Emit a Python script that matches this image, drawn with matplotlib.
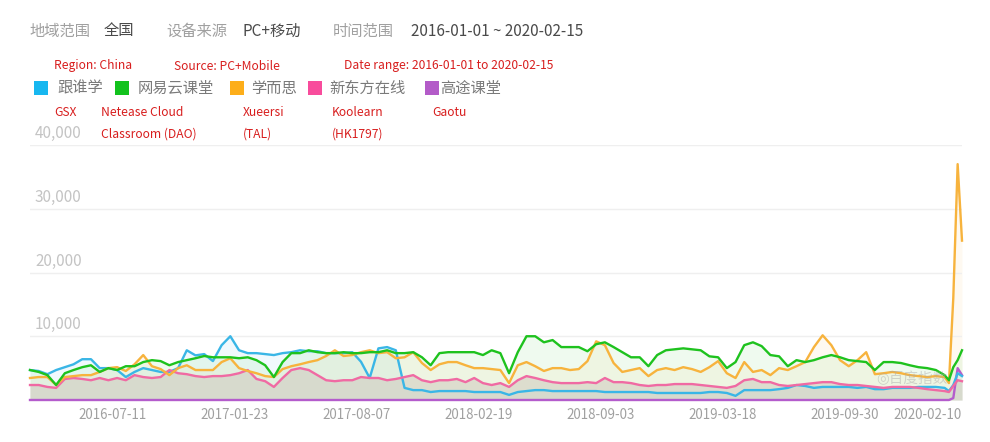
import matplotlib
matplotlib.use("Agg")
import matplotlib.pyplot as plt
from matplotlib.patches import Rectangle
import matplotlib.transforms as mtransforms

plt.rcParams['font.family'] = ['Noto Sans CJK SC', 'DejaVu Sans']

# ---------------- data ----------------
# x positions: week index (bi-weekly samples, weekly near the end)
weeks = list(range(0, 210, 2)) + [210, 211, 212, 213, 214]

tick_weeks = [19, 47, 75, 103, 131, 159, 187, 206]
tick_labels = ['2016-07-11', '2017-01-23', '2017-08-07', '2018-02-19',
               '2018-09-03', '2019-03-18', '2019-09-30', '2020-02-10']

series_names = ['跟谁学', '网易云课堂', '学而思', '新东方在线', '高途课堂']
series_en = ['GSX', 'Netease Cloud\nClassroom (DAO)', 'Xueersi\n(TAL)', 'Koolearn\n(HK1797)', 'Gaotu']

gsx = [4700, 4550, 4050, 4700, 5150, 5600, 6400, 6400, 5000, 5000,
       4700, 3600, 4400, 5000, 4700, 4400, 4400, 5000, 7800, 7000,
       7200, 6100, 8600, 10000, 7800, 7350, 7350, 7200, 7050, 7350,
       7500, 7800, 7650, 7650, 7350, 7350, 7350, 7500, 6000, 3450,
       8100, 8300, 7800, 1900, 1550, 1550, 1250, 1400, 1400, 1400,
       1400, 1250, 1250, 1250, 1250, 800, 1250, 1400, 1550, 1550,
       1400, 1400, 1400, 1400, 1400, 1400, 1250, 1250, 1250, 1250,
       1250, 1250, 1100, 1100, 1100, 1100, 1100, 1100, 1250, 1250,
       1100, 650, 1550, 1550, 1550, 1550, 1700, 1900, 2350, 2200,
       1900, 2050, 2050, 2050, 2050, 1900, 2050, 1700, 1700, 1900,
       1900, 1900, 2050, 2050, 2050, 1900, 1400, 2350, 4200, 3750]

netease = [4700, 4400, 3900, 2350, 4200, 4700, 5150, 5450, 4400, 5000,
           4700, 5300, 5300, 5950, 6250, 6100, 5450, 5950, 6250, 6550,
           6900, 6700, 6700, 6700, 6550, 6700, 6250, 5450, 3600, 5950,
           7350, 7350, 7800, 7500, 7350, 7350, 7500, 7350, 7350, 7500,
           7500, 7800, 7350, 7350, 7500, 6700, 5450, 7350, 7500, 7500,
           7500, 7500, 7050, 7800, 7350, 4200, 7500, 10000, 10000, 9050,
           9400, 8300, 8300, 8300, 7650, 8750, 9050, 8300, 7500, 6700,
           6700, 5300, 7050, 7800, 7950, 8100, 7950, 7800, 6850, 6700,
           5000, 5950, 8600, 9050, 8450, 7050, 6850, 5300, 6250, 5950,
           6250, 6700, 7050, 6700, 6250, 6100, 5950, 4700, 5950, 5950,
           5800, 5450, 5150, 5000, 4700, 3900, 3100, 5150, 6250, 7800]

xueersi = [3450, 3600, 3600, 2350, 3600, 3750, 3900, 3900, 4400, 5000,
           5150, 4550, 5600, 7050, 5300, 4850, 3900, 5000, 5450, 4700,
           4700, 4700, 5950, 6550, 5000, 4550, 4200, 3750, 3600, 4850,
           5300, 5600, 5950, 6250, 6900, 7800, 6900, 7050, 7500, 7800,
           7350, 7500, 6550, 6700, 7500, 5800, 4700, 5600, 5950, 5950,
           5450, 5000, 5000, 4850, 4700, 2650, 5450, 5950, 5300, 4550,
           5000, 5000, 4700, 4850, 6100, 9200, 8600, 5800, 4400, 4700,
           5000, 3750, 4700, 5000, 4700, 5150, 4850, 4400, 5150, 6100,
           4200, 3450, 5950, 4400, 4700, 3900, 5000, 4700, 5300, 5950,
           8300, 10150, 8600, 6250, 5300, 6250, 7500, 4050, 4200, 4400,
           4200, 3900, 3750, 3600, 3750, 3600, 2650, 16000, 37000, 25000]

koolearn = [2350, 2350, 2050, 1900, 3300, 3450, 3300, 3100, 3450, 3100,
            3450, 3100, 3900, 3600, 3450, 3600, 4700, 4200, 4050, 3750,
            3600, 3750, 3750, 3900, 4200, 4700, 3300, 2950, 2050, 3450,
            4700, 5000, 4700, 3900, 3100, 2950, 3100, 3100, 3600, 3450,
            3450, 3100, 3300, 3600, 3900, 3100, 2800, 3100, 3100, 3300,
            2800, 3450, 2650, 2350, 2650, 2050, 3100, 3750, 3450, 3100,
            2800, 2650, 2650, 2650, 2800, 2650, 3450, 2800, 2800, 2650,
            2350, 2200, 2350, 2350, 2500, 2500, 2500, 2350, 2200, 2050,
            1900, 2200, 3100, 3300, 2800, 2800, 2350, 2200, 2350, 2500,
            2650, 2800, 2800, 2500, 2350, 2350, 2200, 2050, 1900, 2050,
            2050, 2050, 1900, 1700, 1550, 1400, 1250, 2200, 3100, 2950]

gaotu = [0, 0, 0, 0, 0, 0, 0, 0, 0, 0,
         0, 0, 0, 0, 0, 0, 0, 0, 0, 0,
         0, 0, 0, 0, 0, 0, 0, 0, 0, 0,
         0, 0, 0, 0, 0, 0, 0, 0, 0, 0,
         0, 0, 0, 0, 0, 0, 0, 0, 0, 0,
         0, 0, 0, 0, 0, 0, 0, 0, 0, 0,
         0, 0, 0, 0, 0, 0, 0, 0, 0, 0,
         0, 0, 0, 0, 0, 0, 0, 0, 0, 0,
         0, 0, 0, 0, 0, 0, 0, 0, 0, 0,
         0, 0, 0, 0, 0, 0, 0, 0, 0, 0,
         0, 0, 0, 0, 0, 0, 0, 300, 5000, 3900]

y_ticks = [10000, 20000, 30000, 40000]
y_tick_labels = ['10,000', '20,000', '30,000', '40,000']

line_colors = ['#3ab6e6', '#1ec21e', '#f7b33d', '#f06aa3', '#b45ccc']
legend_colors = ['#17b7f0', '#12c21d', '#fdae1a', '#f84c9c', '#b35bc8']

# ---------------- figure ----------------
W, H = 990, 442
fig = plt.figure(figsize=(W / 100, H / 100), dpi=100)
fig.patch.set_facecolor('white')

def fx(px):
    return px / W

def fy(py):
    return 1 - py / H

ax = fig.add_axes([fx(30), fy(400), (962 - 30) / W, (400 - 145) / H])
ax.set_xlim(0, 214)
ax.set_ylim(0, 40000)

all_series = [gsx, netease, xueersi, koolearn, gaotu]
for i in [0, 3, 2, 1]:
    ax.fill_between(weeks, 0, all_series[i], color=line_colors[i], alpha=0.07, lw=0, zorder=1)
ax.fill_between(weeks, 0, koolearn, color='#c8c8bc', alpha=0.4, lw=0, zorder=1)
for i in [4, 0, 3, 2, 1]:
    ax.plot(weeks, all_series[i], color=line_colors[i], lw=1.7, zorder=3,
            clip_on=False, solid_joinstyle='round')

ax.set_yticks(y_ticks)
ax.set_yticklabels([])
ax.grid(axis='y', color='#efefef', lw=1, zorder=0)
ax.tick_params(axis='both', length=0)
for s in ax.spines.values():
    s.set_visible(False)

ax.set_xticks(tick_weeks)
ax.set_xticklabels(tick_labels, color='#a0a0a0', fontsize=9.6)
ax.tick_params(axis='x', pad=6)

trans = mtransforms.blended_transform_factory(ax.transAxes, ax.transData)
off = mtransforms.offset_copy(trans, fig=fig, x=0, y=3, units='dots')
for v, lab in zip(y_ticks, y_tick_labels):
    ax.text(5 / 932, v, lab, transform=off, color='#c4c4c4', fontsize=11,
            ha='left', va='bottom', zorder=5)

# watermark
ax.text((912 - 30) / 932, 0.085, '◎百度指数', transform=ax.transAxes, color='#a8a8a8',
        alpha=0.45, fontsize=10.5, ha='center', va='center',
        family=['DejaVu Sans', 'Noto Sans CJK SC'], zorder=4)

# ---------------- header ----------------
hdr_y = 31
fig.text(fx(29), fy(hdr_y), '地域范围', color='#a0a0a0', fontsize=11, va='center')
fig.text(fx(104), fy(hdr_y), '全国', color='#4a4a4a', fontsize=11, va='center')
fig.text(fx(166), fy(hdr_y), '设备来源', color='#a0a0a0', fontsize=11, va='center')
fig.text(fx(243), fy(hdr_y), 'PC+移动', color='#4a4a4a', fontsize=11, va='center')
fig.text(fx(333), fy(hdr_y), '时间范围', color='#a0a0a0', fontsize=11, va='center')
fig.text(fx(411), fy(hdr_y), '2016-01-01 ~ 2020-02-15', color='#4a4a4a', fontsize=11, va='center')

red = '#d81e1e'
fig.text(fx(54), fy(66), 'Region: China', color=red, fontsize=8.7, va='center')
fig.text(fx(174), fy(66), 'Source: PC+Mobile', color=red, fontsize=8.7, va='center')
fig.text(fx(344), fy(66), 'Date range: 2016-01-01 to 2020-02-15', color=red, fontsize=8.7, va='center')

# legend
sq_x = [34, 115, 230, 308, 425]
lab_x = [57, 138, 251, 329, 440]
for c, sx, lx, name in zip(legend_colors, sq_x, lab_x, series_names):
    fig.add_artist(Rectangle((fx(sx), fy(95)), 14 / W, 14 / H, transform=fig.transFigure,
                             facecolor=c, edgecolor='none'))
    fig.text(fx(lx), fy(88), name, color='#7a7a7a', fontsize=11, va='center')

en_x = [54, 101, 243, 332, 432]
for ex, txt in zip(en_x, series_en):
    fig.text(fx(ex), fy(106), txt, color=red, fontsize=8.7, va='top', linespacing=1.9)

fig.savefig('out.png', dpi=100, facecolor='white')
